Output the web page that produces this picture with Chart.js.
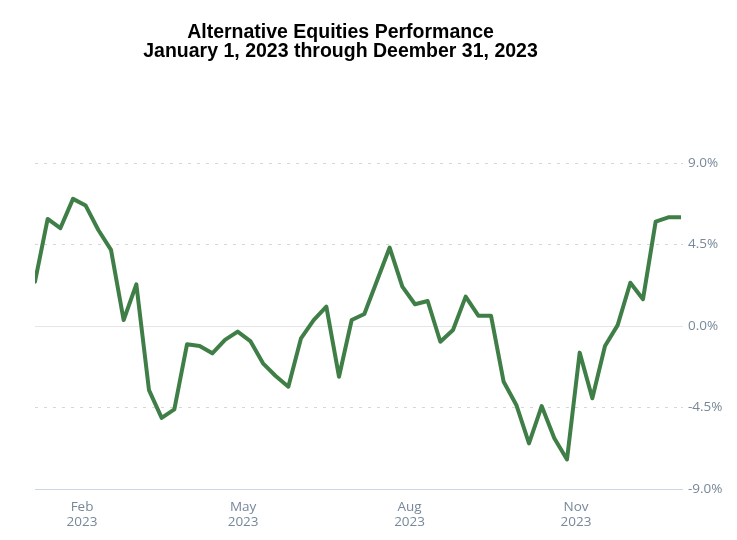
<!DOCTYPE html>
<html>
<head>
<meta charset="utf-8">
<title>Alternative Equities Performance</title>
<script src="https://cdn.jsdelivr.net/npm/chart.js@4.4.1/dist/chart.umd.min.js"></script>
<style>
  html, body { margin: 0; padding: 0; background: #ffffff; }
  .chart-container { position: relative; width: 737px; height: 540px; }
</style>
</head>
<body>
<div class="chart-container">
  <canvas id="perfChart"></canvas>
</div>
<script>
// Weekly observations (Fridays) and cumulative return in percent
const weekDates = [
  "2023-01-06", "2023-01-13", "2023-01-20", "2023-01-27",
  "2023-02-03", "2023-02-10", "2023-02-17", "2023-02-24",
  "2023-03-03", "2023-03-10", "2023-03-17", "2023-03-24", "2023-03-31",
  "2023-04-07", "2023-04-14", "2023-04-21", "2023-04-28",
  "2023-05-05", "2023-05-12", "2023-05-19", "2023-05-26",
  "2023-06-02", "2023-06-09", "2023-06-16", "2023-06-23", "2023-06-30",
  "2023-07-07", "2023-07-14", "2023-07-21", "2023-07-28",
  "2023-08-04", "2023-08-11", "2023-08-18", "2023-08-25",
  "2023-09-01", "2023-09-08", "2023-09-15", "2023-09-22", "2023-09-29",
  "2023-10-06", "2023-10-13", "2023-10-20", "2023-10-27",
  "2023-11-03", "2023-11-10", "2023-11-17", "2023-11-24",
  "2023-12-01", "2023-12-08", "2023-12-15", "2023-12-22", "2023-12-29"
];

const returnsPct = [
  2.45, 5.91, 5.40, 7.02, 6.65, 5.30, 4.20, 0.33, 2.30, -3.54,
  -5.07, -4.60, -1.01, -1.10, -1.51, -0.77, -0.31, -0.83, -2.06, -2.76,
  -3.35, -0.68, 0.33, 1.07, -2.80, 0.33, 0.66, 2.50, 4.33, 2.17,
  1.20, 1.38, -0.87, -0.22, 1.62, 0.57, 0.57, -3.08, -4.36, -6.48,
  -4.42, -6.20, -7.37, -1.47, -3.99, -1.10, 0.05, 2.39, 1.48, 5.76,
  6.00, 6.00
];

const monthTickDates = ["2023-02-01", "2023-05-01", "2023-08-01", "2023-11-01"];
const monthTickLabels = [["Feb", "2023"], ["May", "2023"], ["Aug", "2023"], ["Nov", "2023"]];

const yTicks = [-9, -4.5, 0, 4.5, 9];

const titleLines = [
  "Alternative Equities Performance",
  "January 1, 2023 through Deember 31, 2023"
];

// day number since Jan 1, 2023 (no date adapter available, so use a linear axis)
function dayOfYear(iso) {
  const [y, m, d] = iso.split("-").map(Number);
  return (Date.UTC(y, m - 1, d) - Date.UTC(2023, 0, 1)) / 86400000;
}

const weekDays = weekDates.map(dayOfYear);
const monthTickDays = monthTickDates.map(dayOfYear);

const colors = {
  line: "#3f7f47",
  ticks: "#778899",
  zeroLine: "#e6e6e6",
  dashLine: "#d6d6d6",
  axisLine: "#ccd6eb",
  title: "#000000",
};

// title is centred between the canvas left edge and the plot's right edge in the reference
const titleShift = {
  id: "titleShift",
  afterLayout(chart) {
    if (!chart.titleBlock) return;
    chart.titleBlock.left = 0;
    chart.titleBlock.right = chart.chartArea.right;
  },
};

function buildChart(ctx) {
  return new Chart(ctx, {
    type: "line",
    data: {
      datasets: [
        {
          label: "Alternative Equities",
          data: weekDays.map((d, i) => ({ x: d, y: returnsPct[i] })),
          borderColor: colors.line,
          backgroundColor: colors.line,
          borderWidth: 4,
          borderJoinStyle: "round",
          borderCapStyle: "round",
          pointRadius: 0,
          tension: 0,
          fill: false,
        },
      ],
    },
    plugins: [titleShift],
    options: {
      responsive: true,
      maintainAspectRatio: false,
      animation: false,
      layout: { padding: { left: 35, right: 0, top: 0, bottom: 0 } },
      plugins: {
        legend: { display: false },
        tooltip: { enabled: false },
        title: {
          display: true,
          text: titleLines,
          color: colors.title,
          font: { family: "'Liberation Sans', Arial, sans-serif", size: 19.5, weight: "bold", lineHeight: "19px" },
          padding: { top: 23, bottom: 102 },
        },
      },
      scales: {
        x: {
          type: "linear",
          min: weekDays[0],
          max: weekDays[weekDays.length - 1],
          grid: { display: false },
          border: { display: true, color: colors.axisLine, width: 1 },
          afterBuildTicks: (scale) => {
            scale.ticks = monthTickDays.map((v) => ({ value: v }));
          },
          afterFit: (scale) => { scale.height = 51; },
          ticks: {
            color: colors.ticks,
            font: { family: "'Open Sans', sans-serif", size: 13.5, lineHeight: "15px" },
            padding: 3,
            maxRotation: 0,
            autoSkip: false,
            callback: (value) => {
              const idx = monthTickDays.indexOf(value);
              return idx >= 0 ? monthTickLabels[idx] : "";
            },
          },
        },
        y: {
          position: "right",
          min: -9,
          max: 9,
          afterBuildTicks: (scale) => {
            scale.ticks = yTicks.map((v) => ({ value: v }));
          },
          afterFit: (scale) => { scale.width = 56; },
          grid: {
            color: (c) => {
              if (!c.tick) return colors.dashLine;
              if (c.tick.value === 0) return colors.zeroLine;
              if (c.tick.value === -9) return colors.axisLine;
              return colors.dashLine;
            },
            tickLength: 2,
            lineWidth: 1,
          },
          border: {
            display: false,
            dash: (c) => (c.tick && c.tick.value !== 0 && c.tick.value !== -9 ? [3, 6] : []),
          },
          ticks: {
            color: colors.ticks,
            font: { family: "'Open Sans', sans-serif", size: 13.5 },
            padding: 5,
            callback: (value) => value.toFixed(1) + "%",
          },
        },
      },
    },
  });
}

function initChart() {
  const el = document.getElementById("perfChart");
  if (!el) return;
  buildChart(el.getContext("2d"));
}

if (document.readyState === "loading") {
  document.addEventListener("DOMContentLoaded", initChart);
} else {
  initChart();
}
</script>
</body>
</html>
